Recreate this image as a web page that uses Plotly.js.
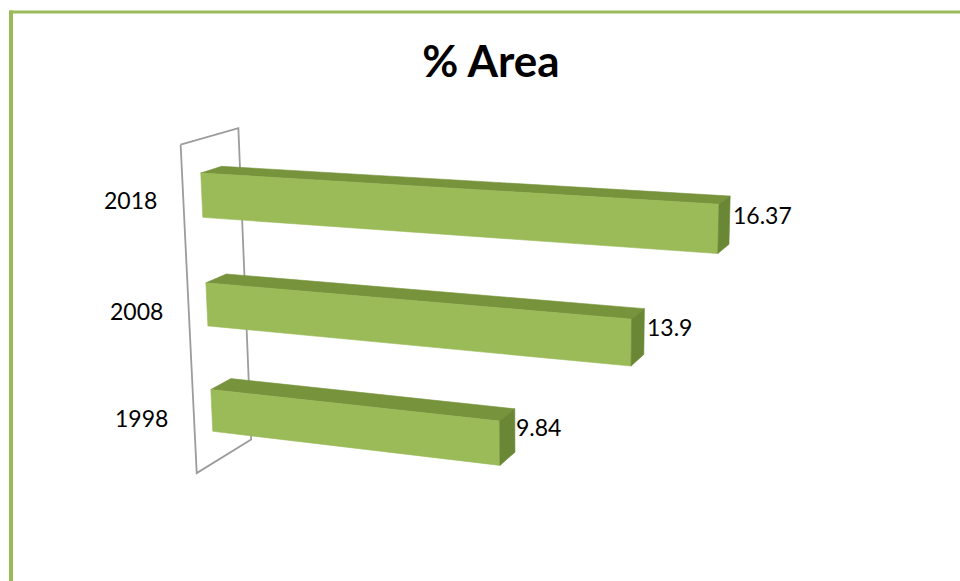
<!DOCTYPE html>
<html><head><meta charset="utf-8">
<script src="https://cdn.plot.ly/plotly-3.0.1.min.js"></script>
<style>html,body{margin:0;padding:0;background:#fff;overflow:hidden}</style>
</head><body><div id="chart" style="width:960px;height:581px"></div>
<script>
// ---- data ----
const categories = ['1998', '2008', '2018'];
const values = [9.84, 13.9, 16.37];
const valueLabels = ['9.84', '13.9', '16.37'];
const chartTitle = '% Area';

// ---- 3D view (camera) ----
const view = {
  // front plane anchors: [value, category, px, py]
  corners: [[0, 2.5, 199.2, 139.4], [0, -0.5, 214.2, 462.3], [18, 2.5, 778.6, 169.9], [18, -0.5, 767, 531.8]],
  vp: [1197, -146], depthPx: 21,
  yMin: -0.5, yMax: 2.5, barHalf: 0.2, wallZ: [-0.85, 1.9]
};
const colors = { front: '#9BBB59', top: '#77933C', end: '#6A8736', wall: '#9C9C9C', border: '#9BBB59' };
const fontFamily = 'Lato, "Open Sans", sans-serif';

// solve homography
function solve(A, b) {
  const n = b.length;
  for (let i = 0; i < n; i++) A[i].push(b[i]);
  for (let c = 0; c < n; c++) {
    let p = c;
    for (let r = c + 1; r < n; r++) if (Math.abs(A[r][c]) > Math.abs(A[p][c])) p = r;
    [A[c], A[p]] = [A[p], A[c]];
    for (let r = 0; r < n; r++) {
      if (r === c) continue;
      const f = A[r][c] / A[c][c];
      for (let k = c; k <= n; k++) A[r][k] -= f * A[c][k];
    }
  }
  return A.map((row, i) => row[n] / row[i]);
}
const M = [], rhs = [];
view.corners.forEach(([X, Y, u, v]) => {
  M.push([X, Y, 1, 0, 0, 0, -X * u, -Y * u]); rhs.push(u);
  M.push([0, 0, 0, X, Y, 1, -X * v, -Y * v]); rhs.push(v);
});
const h = solve(M, rhs);
function front(X, Y) {
  return [h[0] * X + h[1] * Y + h[2], h[3] * X + h[4] * Y + h[5], h[6] * X + h[7] * Y + 1];
}
const A0 = front(view.corners[0][0], view.corners[0][1]);
const lambda = view.depthPx * A0[2] / (view.vp[0] - A0[0] / A0[2] - view.depthPx);
function project(X, Y, Z) {
  const p = front(X, Y);
  const w = p[2] + lambda * Z;
  return [(p[0] + lambda * Z * view.vp[0]) / w, (p[1] + lambda * Z * view.vp[1]) / w];
}
function poly(pts, color, name) {
  const P = pts.map(q => project(q[0], q[1], q[2]));
  P.push(P[0]);
  return {
    type: 'scatter', mode: 'lines', name: name,
    x: P.map(q => q[0]), y: P.map(q => q[1]),
    fill: 'toself', fillcolor: color, line: { color: color, width: 0.6 },
    hoverinfo: 'skip', showlegend: false
  };
}

const traces = [];
// wall
{
  const [z0, z1] = view.wallZ;
  const W = [[0, view.yMax, z0], [0, view.yMax, z1], [0, view.yMin, z1], [0, view.yMin, z0]].map(q => project(q[0], q[1], q[2]));
  W.push(W[0]);
  traces.push({ type: 'scatter', mode: 'lines', x: W.map(q => q[0]), y: W.map(q => q[1]),
    line: { color: colors.wall, width: 1.8 }, hoverinfo: 'skip', showlegend: false });
}
// bars
values.forEach((v, i) => {
  const y0 = i - view.barHalf, y1 = i + view.barHalf;
  traces.push(poly([[0, y1, 0], [v, y1, 0], [v, y1, 1], [0, y1, 1]], colors.top, categories[i] + ' top'));
  traces.push(poly([[0, y0, 0], [v, y0, 0], [v, y1, 0], [0, y1, 0]], colors.front, categories[i]));
  traces.push(poly([[v, y0, 0], [v, y1, 0], [v, y1, 1], [v, y0, 1]], colors.end, categories[i] + ' end'));
});

const annotations = [];
categories.forEach((c, i) => {
  const p = project(0, i, view.wallZ[0]);
  annotations.push({ x: p[0], y: p[1], xref: 'x', yref: 'y', text: c, showarrow: false,
    xanchor: 'right', yanchor: 'middle', xshift: -24, yshift: 2, font: { family: fontFamily, size: 23, color: '#000' } });
});
values.forEach((v, i) => {
  const p = project(v, i, 0.5);
  annotations.push({ x: p[0], y: p[1], xref: 'x', yref: 'y', text: valueLabels[i], showarrow: false,
    xanchor: 'left', yanchor: 'middle', xshift: 7, yshift: 10, font: { family: fontFamily, size: 23, color: '#000' } });
});

const layout = {
  width: 960, height: 581,
  margin: { l: 0, r: 0, t: 0, b: 0 },
  paper_bgcolor: '#fff', plot_bgcolor: '#fff',
  title: { text: '<b>' + chartTitle + '</b>', x: 491 / 960, xanchor: 'center', y: 1 - 62 / 581, yanchor: 'middle',
    font: { family: fontFamily, size: 44, color: '#000' } },
  xaxis: { range: [0, 960], visible: false, fixedrange: true },
  yaxis: { range: [581, 0], visible: false, fixedrange: true },
  showlegend: false,
  annotations: annotations,
  shapes: [
    { type: 'line', xref: 'x', yref: 'y', x0: 9, y0: 12, x1: 962, y1: 12, line: { color: colors.border, width: 3 } },
    { type: 'line', xref: 'x', yref: 'y', x0: 11, y0: 10.5, x1: 11, y1: 590, line: { color: colors.border, width: 4 } }
  ]
};
Plotly.newPlot('chart', traces, layout, { displayModeBar: false, staticPlot: true });
</script></body></html>
